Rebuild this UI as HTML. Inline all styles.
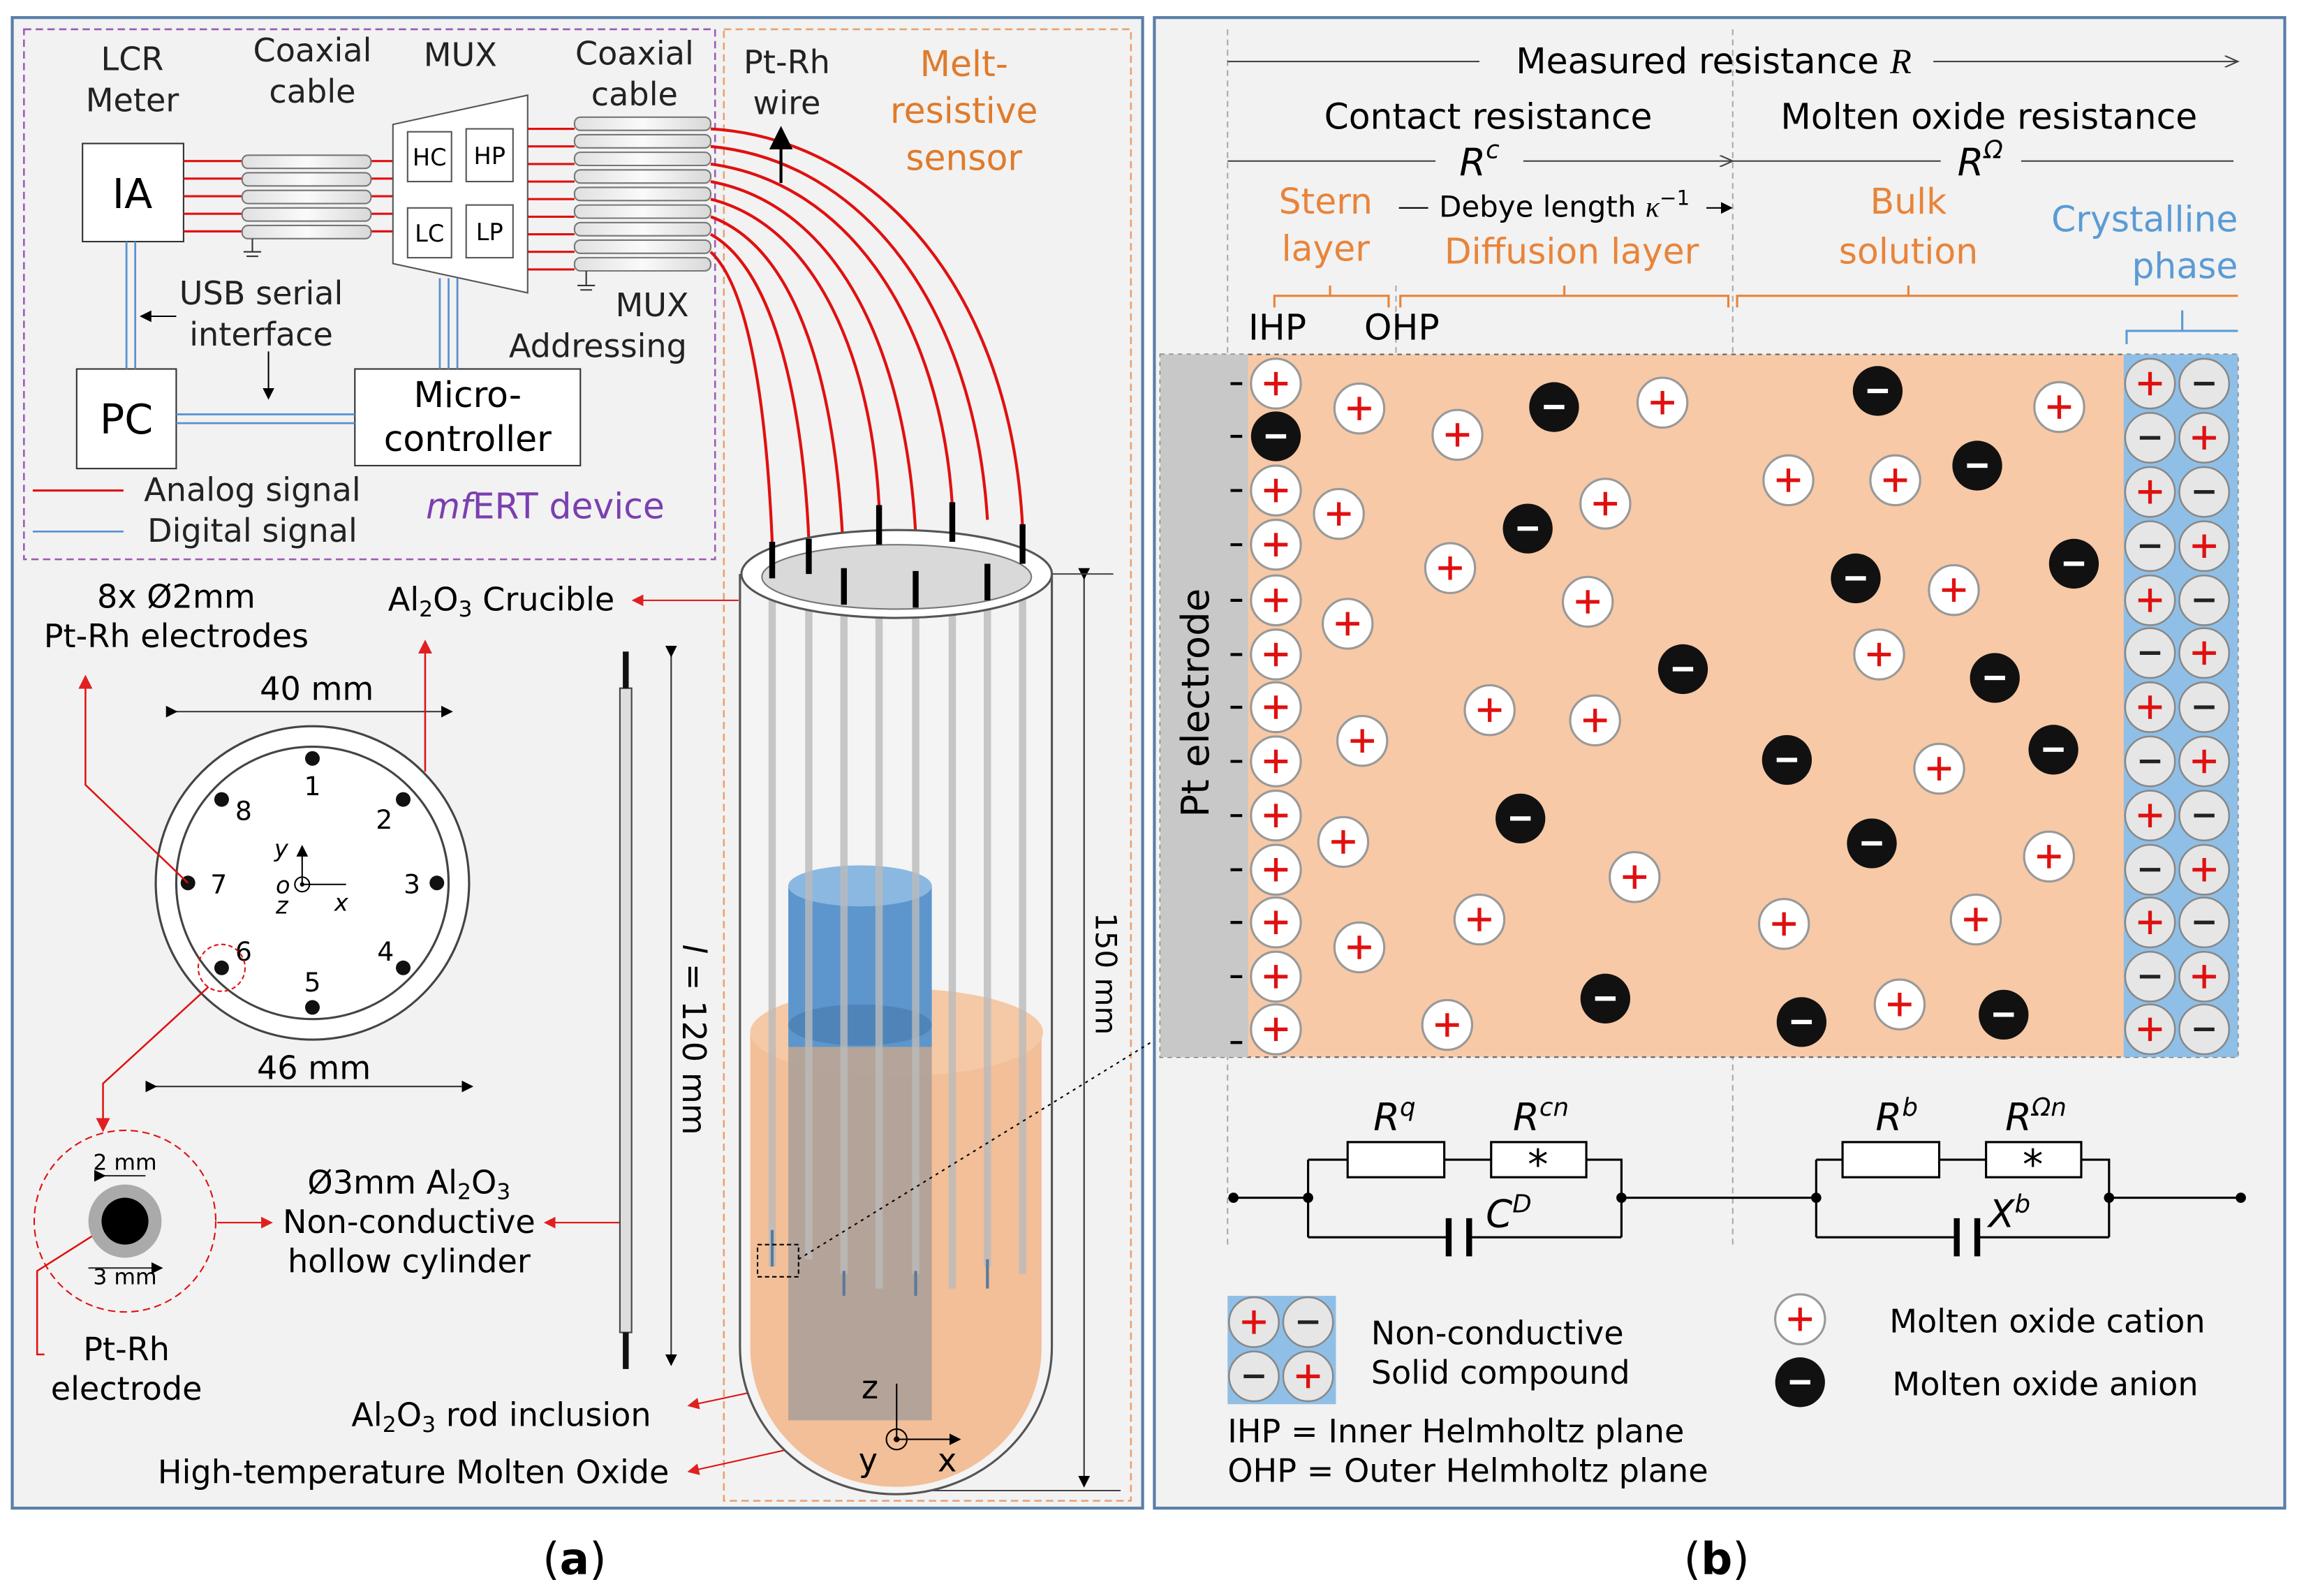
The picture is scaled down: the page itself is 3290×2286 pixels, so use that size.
<!DOCTYPE html>
<html><head><meta charset="utf-8"><style>html,body{margin:0;padding:0;background:#fff}svg{display:block}text{font-family:"DejaVu Sans","Liberation Sans",sans-serif}</style></head><body>
<svg width="3290" height="2286" viewBox="0 0 1568 1090" xmlns="http://www.w3.org/2000/svg">
<defs>
<marker id="ar" markerWidth="8" markerHeight="8" refX="7" refY="4" orient="auto"><path d="M0,0 L8,4 L0,8z" fill="#e02020"/></marker>
<marker id="ak" markerWidth="8" markerHeight="8" refX="7" refY="4" orient="auto"><path d="M0,0 L8,4 L0,8z" fill="#000"/></marker>
<marker id="ag" markerWidth="10" markerHeight="8" refX="9" refY="4" orient="auto"><path d="M0,0 L9,4 L0,8" fill="none" stroke="#444"/></marker>
<linearGradient id="cyl" x1="0" x2="1"><stop offset="0" stop-color="#e0e0e0"/><stop offset="0.5" stop-color="#fafafa"/><stop offset="1" stop-color="#d8d8d8"/></linearGradient>
<g id="cat"><circle r="17" fill="#fff" stroke="#999" stroke-width="1.5"/><path d="M-8,0H8M0,-8V8" stroke="#e01010" stroke-width="2.5"/></g>
<g id="an"><circle r="17" fill="#111"/><path d="M-7,0H7" stroke="#fff" stroke-width="3"/></g>
<g id="cc"><circle r="17" fill="#e6e6e6" stroke="#888" stroke-width="1.2"/><path d="M-8,0H8M0,-8V8" stroke="#e01010" stroke-width="2.5"/></g>
<g id="ca"><circle r="17" fill="#e6e6e6" stroke="#888" stroke-width="1.2"/><path d="M-7,0H7" stroke="#222" stroke-width="2.5"/></g>
</defs>
<rect width="1568" height="1090" fill="#fff"/>
<rect x="8" y="12" width="772" height="1018" fill="#f2f2f2" stroke="#5a7ea8" stroke-width="2"/>
<rect x="16" y="20" width="472" height="362" fill="none" stroke="#9b59b6" stroke-dasharray="5,3" stroke-width="1.2"/>
<rect x="494" y="20" width="278" height="1005" fill="none" stroke="#e8a070" stroke-dasharray="5,3" stroke-width="1.2"/>
<g font-size="22" fill="#222" text-anchor="middle">
<text x="90" y="48">LCR</text><text x="90" y="76">Meter</text>
<text x="213" y="42">Coaxial</text><text x="213" y="70">cable</text>
<text x="314" y="45">MUX</text>
<text x="433" y="44">Coaxial</text><text x="433" y="72">cable</text>
<text x="537" y="50">Pt-Rh</text><text x="537" y="78">wire</text>
<text x="178" y="208">USB serial</text><text x="178" y="236">interface</text>
<text x="445" y="216">MUX</text><text x="408" y="244">Addressing</text>
<text x="172" y="342">Analog signal</text><text x="172" y="370">Digital signal</text>
</g>
<g font-size="24" fill="#e07b2a" text-anchor="middle"><text x="658" y="52">Melt-</text><text x="658" y="84">resistive</text><text x="658" y="116">sensor</text></g>
<text x="372" y="354" font-size="24" fill="#7b3fb0" text-anchor="middle"><tspan font-style="italic">mf</tspan>ERT device</text>
<rect x="56" y="98" width="69" height="67" fill="#fff" stroke="#333"/><text x="90" y="142" font-size="28" text-anchor="middle">IA</text>
<rect x="52" y="252" width="68" height="68" fill="#fff" stroke="#333"/><text x="86" y="296" font-size="28" text-anchor="middle">PC</text>
<rect x="242" y="252" width="154" height="66" fill="#fff" stroke="#333"/><text x="319" y="278" font-size="24" text-anchor="middle">Micro-</text><text x="319" y="308" font-size="24" text-anchor="middle">controller</text>
<g stroke="#e01010" stroke-width="1.5"><path d="M125,110H165M125,122H165M125,134H165M125,146H165M125,158H165"/>
<path d="M253,110H270M253,122H270M253,134H270M253,146H270M253,158H270"/></g>
<g fill="url(#cyl)" stroke="#777"><rect x="165" y="106" width="88" height="9" rx="4"/><rect x="165" y="118" width="88" height="9" rx="4"/><rect x="165" y="130" width="88" height="9" rx="4"/><rect x="165" y="142" width="88" height="9" rx="4"/><rect x="165" y="154" width="88" height="9" rx="4"/></g>
<path d="M172,163V172M166,172H178M168,175H176" stroke="#333"/>
<path d="M268,85L360,65V200L268,180Z" fill="#fff" stroke="#555"/>
<g fill="#fff" stroke="#555"><rect x="278" y="90" width="30" height="34"/><rect x="318" y="88" width="32" height="36"/><rect x="278" y="142" width="30" height="34"/><rect x="318" y="140" width="32" height="36"/></g>
<g font-size="16" text-anchor="middle"><text x="293" y="113">HC</text><text x="334" y="112">HP</text><text x="293" y="165">LC</text><text x="334" y="164">LP</text></g>
<g stroke="#e01010" stroke-width="1.5"><path d="M360,88H392M360,100H392M360,112H392M360,124H392M360,136H392M360,148H392M360,160H392M360,172H392M360,184H392"/></g>
<g fill="url(#cyl)" stroke="#777"><rect x="392" y="80" width="93" height="9" rx="4"/><rect x="392" y="92" width="93" height="9" rx="4"/><rect x="392" y="104" width="93" height="9" rx="4"/><rect x="392" y="116" width="93" height="9" rx="4"/><rect x="392" y="128" width="93" height="9" rx="4"/><rect x="392" y="140" width="93" height="9" rx="4"/><rect x="392" y="152" width="93" height="9" rx="4"/><rect x="392" y="164" width="93" height="9" rx="4"/><rect x="392" y="176" width="93" height="9" rx="4"/></g>
<path d="M400,185V195M394,195H406M396,198H404" stroke="#333"/>
<g fill="none" stroke="#e01010" stroke-width="2">
<path d="M485,88C600,95 690,200 698,360"/><path d="M485,100C590,110 665,210 674,355"/>
<path d="M485,112C580,125 642,220 650,345"/><path d="M485,124C570,140 618,235 625,365"/>
<path d="M485,136C560,155 595,250 600,345"/><path d="M485,148C545,170 572,265 576,388"/>
<path d="M485,160C530,185 548,280 552,368"/><path d="M485,172C515,200 524,300 527,370"/>
</g>
<path d="M533,125V88" stroke="#000" stroke-width="2" marker-end="url(#ak)"/>
<g stroke="#5a8fd0" stroke-width="1.3" fill="none"><path d="M86,165V252M92,165V252"/><path d="M120,283H242M120,289H242"/><path d="M300,190V252M306,190V252M312,190V252"/><path d="M22,363H84"/></g>
<path d="M22,335H84" stroke="#e01010" stroke-width="1.5"/>
<path d="M120,216H96" stroke="#000" marker-end="url(#ak)"/><path d="M183,240V272" stroke="#000" marker-end="url(#ak)"/>
<g font-size="22" text-anchor="middle"><text x="120" y="415">8x Ø2mm</text><text x="120" y="442">Pt-Rh electrodes</text><text x="216" y="478">40 mm</text><text x="214" y="737">46 mm</text></g>
<path d="M120,486H308" stroke="#333" marker-start="url(#ak)" marker-end="url(#ak)"/>
<path d="M106,742H322" stroke="#333" marker-start="url(#ak)" marker-end="url(#ak)"/>
<circle cx="213" cy="603" r="107" fill="#fff" stroke="#444" stroke-width="1.5"/><circle cx="213" cy="603" r="93" fill="#fff" stroke="#444" stroke-width="1.5"/>
<g fill="#111"><circle cx="213" cy="518" r="5"/><circle cx="275" cy="546" r="5"/><circle cx="298" cy="603" r="5"/><circle cx="275" cy="661" r="5"/><circle cx="213" cy="688" r="5"/><circle cx="151" cy="661" r="5"/><circle cx="128" cy="603" r="5"/><circle cx="151" cy="546" r="5"/></g>
<g font-size="18" text-anchor="middle"><text x="213" y="543">1</text><text x="262" y="566">2</text><text x="281" y="610">3</text><text x="263" y="656">4</text><text x="213" y="677">5</text><text x="166" y="656">6</text><text x="149" y="610">7</text><text x="166" y="560">8</text></g>
<circle cx="206" cy="604" r="5" fill="none" stroke="#000"/><circle cx="206" cy="604" r="1.5"/>
<path d="M206,604H236M206,604V578" stroke="#000" marker-end="url(#ak)"/>
<g font-size="16" font-style="italic"><text x="187" y="585" font-family="Liberation Serif">y</text><text x="228" y="622" font-family="Liberation Serif">x</text><text x="188" y="610" font-family="Liberation Serif">o</text><text x="188" y="624" font-family="Liberation Serif">z</text></g>
<circle cx="151" cy="661" r="16" fill="none" stroke="#e01010" stroke-dasharray="3,2"/>
<g stroke="#e01010" stroke-width="1.2" fill="none"><path d="M128,603L58,536V462" marker-end="url(#ar)"/><path d="M290,527V438" marker-end="url(#ar)"/><path d="M142,674L70,740V772" marker-end="url(#ar)"/><path d="M85,830L25,868V925H30" /></g>
<circle cx="85" cy="834" r="62" fill="none" stroke="#e01010" stroke-dasharray="5,3"/>
<circle cx="85" cy="834" r="25" fill="#aaa"/><circle cx="85" cy="834" r="16" fill="#000"/>
<g font-size="15" text-anchor="middle"><text x="85" y="799">2 mm</text><text x="85" y="877">3 mm</text></g>
<path d="M71,803H99M60,866H110" stroke="#333" marker-start="url(#ak)" marker-end="url(#ak)"/>
<g font-size="22" text-anchor="middle"><text x="86" y="929">Pt-Rh</text><text x="86" y="956">electrode</text>
<text x="279" y="815">Ø3mm Al<tspan font-size="15" dy="4">2</tspan><tspan dy="-4">O</tspan><tspan font-size="15" dy="4">3</tspan></text>
<text x="279" y="842">Non-conductive</text><text x="279" y="869">hollow cylinder</text>
<text x="342" y="417">Al<tspan font-size="15" dy="4">2</tspan><tspan dy="-4">O</tspan><tspan font-size="15" dy="4">3</tspan><tspan dy="-4"> Crucible</tspan></text>
<text x="342" y="974">Al<tspan font-size="15" dy="4">2</tspan><tspan dy="-4">O</tspan><tspan font-size="15" dy="4">3</tspan><tspan dy="-4"> rod inclusion</tspan></text>
<text x="282" y="1013">High-temperature Molten Oxide</text></g>
<path d="M148,835H185" stroke="#e01010" marker-end="url(#ar)"/><path d="M425,835H372" stroke="#e01010" marker-end="url(#ar)"/>
<path d="M504,410H432" stroke="#e01010" marker-end="url(#ar)"/>
<path d="M540,945L470,960" stroke="#e01010" marker-end="url(#ar)"/><path d="M560,985L470,1005" stroke="#e01010" marker-end="url(#ar)"/>
<rect x="423" y="470" width="8" height="440" fill="#ddd" stroke="#444"/><path d="M427,445V470M427,910V935" stroke="#111" stroke-width="4"/>
<path d="M458,448V932" stroke="#333" marker-start="url(#ak)" marker-end="url(#ak)"/>
<text x="466" y="710" font-size="22" font-family="Liberation Serif" transform="rotate(90 466 710)" text-anchor="middle"><tspan font-style="italic">l</tspan> = 120 mm</text>
<path d="M740,395V1015" stroke="#333" marker-start="url(#ak)" marker-end="url(#ak)"/>
<text x="748" y="665" font-size="20" font-family="Liberation Serif" transform="rotate(90 748 665)" text-anchor="middle">150 mm</text>
<path d="M718,392H760M620,1018H765" stroke="#444"/>
<path d="M505,392V920A106,100 0 0 0 718,920V392" fill="#f4f4f4" stroke="#555" stroke-width="1.5"/>
<path d="M512,705V920A99,95 0 0 0 711,920V705Z" fill="#f2b98e" opacity="0.9"/>
<ellipse cx="612" cy="705" rx="100" ry="30" fill="#f5c9a6"/>
<rect x="538" y="605" width="98" height="110" fill="#5d96cc"/><ellipse cx="587" cy="605" rx="49" ry="14" fill="#8bb8e0"/><ellipse cx="587" cy="700" rx="49" ry="14" fill="#4f84b8"/>
<rect x="538" y="715" width="98" height="255" fill="#a99d98" opacity="0.85"/>
<g stroke="#bbb" stroke-width="5" opacity="0.8"><path d="M527,380V865M552,385V860M576,395V870M600,370V880M625,380V870M650,370V880M674,375V865M698,385V870"/></g>
<g stroke="#5a7a9a" stroke-width="2"><path d="M527,840V865M576,868V885M625,868V885M674,860V880"/></g>
<ellipse cx="612" cy="392" rx="106" ry="30" fill="#fff" stroke="#555" stroke-width="1.5"/><ellipse cx="612" cy="394" rx="92" ry="22" fill="#d9d9d9" stroke="#777"/>
<g stroke="#000" stroke-width="4"><path d="M527,370V395M552,368V392M576,388V413M600,345V372M625,390V415M650,343V370M674,385V410M698,358V385"/></g>
<rect x="517" y="850" width="28" height="22" fill="none" stroke="#000" stroke-dasharray="3,2"/>
<path d="M545,860L805,700" stroke="#000" stroke-dasharray="2,3" marker-end="url(#ak)"/>
<circle cx="612" cy="983" r="7" fill="none" stroke="#000"/><circle cx="612" cy="983" r="2"/>
<path d="M612,983V945M612,983H655" stroke="#000" marker-end="url(#ak)"/>
<g font-size="22"><text x="588" y="955" font-family="Liberation Serif">z</text><text x="586" y="1005" font-family="Liberation Serif">y</text><text x="640" y="1005" font-family="Liberation Serif">x</text></g>
<rect x="788" y="12" width="772" height="1018" fill="#f2f2f2" stroke="#5a7ea8" stroke-width="2"/>
<path d="M838,20V850M953,195V720M1183,20V850" stroke="#aaa" stroke-dasharray="4,3"/>
<path d="M1010,42H838M1320,42H1528" stroke="#444" marker-end="url(#ag)"/>
<text x="1170" y="50" font-size="24" text-anchor="middle">Measured resistance <tspan font-family="Liberation Serif" font-style="italic">R</tspan></text>
<text x="1016" y="88" font-size="24" text-anchor="middle">Contact resistance</text><text x="1358" y="88" font-size="24" text-anchor="middle">Molten oxide resistance</text>
<path d="M980,110H838M1040,110H1183" stroke="#444" marker-end="url(#ag)"/><path d="M1183,110H1325M1380,110H1525" stroke="#444"/>
<text x="1010" y="120" font-size="26" font-family="Liberation Serif" font-style="italic" text-anchor="middle">R<tspan font-size="17" dy="-12">c</tspan></text>
<text x="1352" y="120" font-size="26" font-family="Liberation Serif" font-style="italic" text-anchor="middle">R<tspan font-size="17" dy="-12">Ω</tspan></text>
<g font-size="24" fill="#e8843a" text-anchor="middle"><text x="905" y="146">Stern</text><text x="905" y="178">layer</text><text x="1073" y="180">Diffusion layer</text><text x="1303" y="146">Bulk</text><text x="1303" y="180">solution</text></g>
<g font-size="24" fill="#5b9bd5" text-anchor="end"><text x="1528" y="158">Crystalline</text><text x="1528" y="190">phase</text></g>
<text x="1068" y="148" font-size="20" text-anchor="middle">Debye length <tspan font-family="Liberation Serif" font-style="italic">κ</tspan><tspan font-size="14" dy="-8">−1</tspan></text>
<path d="M975,142H955M1165,142H1182" stroke="#000" marker-end="url(#ak)"/>
<g fill="none" stroke="#e8843a" stroke-width="1.5"><path d="M870,210V202H948V210M908,202V195"/><path d="M956,210V202H1180V210M1068,202V195"/><path d="M1186,210V202H1528M1303,202V195"/></g>
<path d="M1452,235V226H1528M1490,226V212" fill="none" stroke="#5b9bd5" stroke-width="1.5"/>
<text x="872" y="232" font-size="24" text-anchor="middle">IHP</text><text x="957" y="232" font-size="24" text-anchor="middle">OHP</text>
<rect x="792" y="242" width="736" height="480" fill="#f8c9a6" stroke="#666" stroke-dasharray="3,3"/>
<rect x="792" y="242" width="60" height="480" fill="#c8c8c8"/>
<rect x="1450" y="242" width="78" height="480" fill="#8fbfe6"/>
<text x="825" y="480" font-size="26" transform="rotate(-90 825 480)" text-anchor="middle">Pt electrode</text>
<g stroke="#000" stroke-width="2"><path d="M840,262h8M840,298h8M840,335h8M840,372h8M840,410h8M840,447h8M840,483h8M840,520h8M840,557h8M840,594h8M840,630h8M840,667h8M840,712h8"/></g>
<g>
<use href="#cat" x="871" y="262"/><use href="#an" x="871" y="298"/><use href="#cat" x="871" y="335"/><use href="#cat" x="871" y="372"/><use href="#cat" x="871" y="410"/><use href="#cat" x="871" y="447"/><use href="#cat" x="871" y="483"/><use href="#cat" x="871" y="520"/><use href="#cat" x="871" y="557"/><use href="#cat" x="871" y="594"/><use href="#cat" x="871" y="630"/><use href="#cat" x="871" y="667"/><use href="#cat" x="871" y="703"/>
<use href="#cat" x="928" y="279"/><use href="#cat" x="914" y="351"/><use href="#cat" x="920" y="426"/><use href="#cat" x="930" y="506"/><use href="#cat" x="917" y="575"/><use href="#cat" x="928" y="647"/>
<use href="#cat" x="995" y="297"/><use href="#cat" x="990" y="388"/><use href="#cat" x="1096" y="344"/><use href="#cat" x="1084" y="411"/><use href="#cat" x="1017" y="485"/><use href="#cat" x="1089" y="492"/><use href="#cat" x="1135" y="275"/><use href="#cat" x="1116" y="599"/><use href="#cat" x="1010" y="628"/><use href="#cat" x="988" y="700"/>
<use href="#cat" x="1221" y="328"/><use href="#cat" x="1294" y="328"/><use href="#cat" x="1406" y="278"/><use href="#cat" x="1334" y="403"/><use href="#cat" x="1283" y="447"/><use href="#cat" x="1324" y="525"/><use href="#cat" x="1399" y="585"/><use href="#cat" x="1349" y="628"/><use href="#cat" x="1218" y="631"/><use href="#cat" x="1297" y="686"/>
<use href="#an" x="1061" y="278"/><use href="#an" x="1043" y="361"/><use href="#an" x="1149" y="457"/><use href="#an" x="1038" y="559"/><use href="#an" x="1096" y="682"/><use href="#an" x="1282" y="267"/><use href="#an" x="1350" y="318"/><use href="#an" x="1416" y="385"/><use href="#an" x="1267" y="395"/><use href="#an" x="1362" y="463"/><use href="#an" x="1220" y="519"/><use href="#an" x="1402" y="512"/><use href="#an" x="1278" y="576"/><use href="#an" x="1230" y="698"/><use href="#an" x="1368" y="693"/>
</g>
<g>
<use href="#cc" x="1468" y="262"/><use href="#ca" x="1505" y="262"/><use href="#ca" x="1468" y="299"/><use href="#cc" x="1505" y="299"/><use href="#cc" x="1468" y="336"/><use href="#ca" x="1505" y="336"/><use href="#ca" x="1468" y="373"/><use href="#cc" x="1505" y="373"/><use href="#cc" x="1468" y="410"/><use href="#ca" x="1505" y="410"/><use href="#ca" x="1468" y="446"/><use href="#cc" x="1505" y="446"/><use href="#cc" x="1468" y="483"/><use href="#ca" x="1505" y="483"/><use href="#ca" x="1468" y="520"/><use href="#cc" x="1505" y="520"/><use href="#cc" x="1468" y="557"/><use href="#ca" x="1505" y="557"/><use href="#ca" x="1468" y="594"/><use href="#cc" x="1505" y="594"/><use href="#cc" x="1468" y="630"/><use href="#ca" x="1505" y="630"/><use href="#ca" x="1468" y="667"/><use href="#cc" x="1505" y="667"/><use href="#cc" x="1468" y="703"/><use href="#ca" x="1505" y="703"/>
</g>
<g fill="none" stroke="#000" stroke-width="1.5">
<path d="M842,818H893M893,792V845M893,792H920M986,792H1018M1083,792H1107V845M893,845H988M1004,845H1107M1107,818H1240M1240,792V845M1240,792H1258M1324,792H1356M1421,792H1440V845M1240,845H1335M1351,845H1440M1440,818H1530"/>
<rect x="920" y="780" width="66" height="24" fill="#fff"/><rect x="1018" y="780" width="65" height="24" fill="#fff"/><rect x="1258" y="780" width="66" height="24" fill="#fff"/><rect x="1356" y="780" width="65" height="24" fill="#fff"/>
</g>
<g stroke="#000" stroke-width="4"><path d="M989,832V858M1003,832V858M1336,832V858M1350,832V858"/></g>
<g fill="#000"><circle cx="842" cy="818" r="3.5"/><circle cx="893" cy="818" r="3.5"/><circle cx="1107" cy="818" r="3.5"/><circle cx="1240" cy="818" r="3.5"/><circle cx="1440" cy="818" r="3.5"/><circle cx="1530" cy="818" r="3.5"/></g>
<g font-size="28" text-anchor="middle"><text x="1050" y="805">*</text><text x="1388" y="805">*</text></g>
<g font-size="26" font-style="italic" text-anchor="middle">
<text x="952" y="772" font-family="Liberation Serif">R<tspan font-size="17" dy="-10">q</tspan></text>
<text x="1052" y="772" font-family="Liberation Serif">R<tspan font-size="17" dy="-10">cn</tspan></text>
<text x="1295" y="772" font-family="Liberation Serif">R<tspan font-size="17" dy="-10">b</tspan></text>
<text x="1390" y="772" font-family="Liberation Serif">R<tspan font-size="17" dy="-10">Ωn</tspan></text>
<text x="1030" y="838" font-family="Liberation Serif">C<tspan font-size="17" dy="-10">D</tspan></text>
<text x="1372" y="838" font-family="Liberation Serif">X<tspan font-size="17" dy="-10">b</tspan></text></g>
<rect x="838" y="885" width="74" height="74" fill="#8fbfe6"/>
<use href="#cc" x="856" y="903"/><use href="#ca" x="893" y="903"/><use href="#ca" x="856" y="940"/><use href="#cc" x="893" y="940"/>
<g font-size="22"><text x="936" y="918">Non-conductive</text><text x="936" y="945">Solid compound</text><text x="1290" y="910">Molten oxide cation</text><text x="1292" y="953">Molten oxide anion</text>
<text x="838" y="985">IHP  = Inner Helmholtz plane</text><text x="838" y="1012">OHP = Outer Helmholtz plane</text></g>
<use href="#cat" x="1229" y="901"/><use href="#an" x="1229" y="944"/>
<text x="392" y="1075" font-size="30" font-family="Liberation Serif" text-anchor="middle">(<tspan font-weight="bold">a</tspan>)</text>
<text x="1172" y="1075" font-size="30" font-family="Liberation Serif" text-anchor="middle">(<tspan font-weight="bold">b</tspan>)</text>
</svg>
</body></html>
